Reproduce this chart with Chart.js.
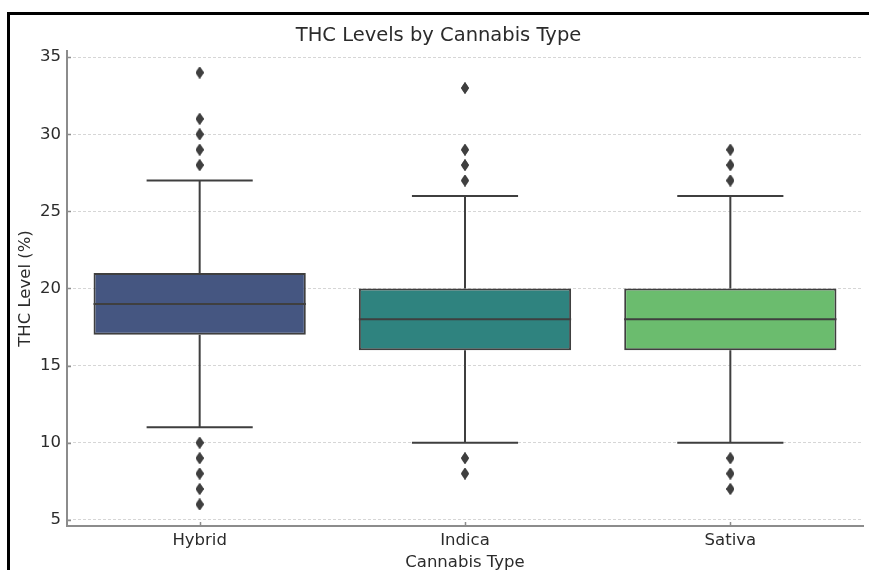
<!DOCTYPE html>
<html>
<head>
<meta charset="utf-8">
<script src="https://cdn.jsdelivr.net/npm/chart.js@4"></script>
<style>
  html, body { margin: 0; padding: 0; background: #fff; }
  #frame {
    position: absolute; left: 7px; top: 12px;
    width: 859px; height: 555px;
    border-left: 3px solid #000; border-top: 3px solid #000;
    background: #fff;
  }
</style>
</head>
<body>
<div id="frame"><canvas id="thc-chart"></canvas></div>
<script>
const categories = ['Hybrid', 'Indica', 'Sativa'];
const q1Values = [17, 16, 16];
const medianValues = [19, 18, 18];
const q3Values = [21, 20, 20];
const whiskerLow = [11, 10, 10];
const whiskerHigh = [27, 26, 26];
const outlierValues = [
    [6, 7, 8, 9, 10, 28, 29, 30, 31, 34],
    [8, 9, 27, 28, 29, 33],
    [7, 8, 9, 27, 28, 29]
];
const yTicks = [5, 10, 15, 20, 25, 30, 35];

const boxColors = ['#455681', '#2f837f', '#6bbc6e'];
const lineColor = '#3f3f3f';
const axisColor = '#8c8c8c';
const textColor = '#2b2b2b';

Chart.defaults.font.family = "'DejaVu Sans', sans-serif";
Chart.defaults.color = textColor;

// thin diamond marker like matplotlib's 'd'
function makeDiamond(w, h, color) {
    const c = document.createElement('canvas');
    c.width = w;
    c.height = h;
    const g = c.getContext('2d');
    g.fillStyle = color;
    g.beginPath();
    g.moveTo(w / 2, 0);
    g.lineTo(w, h / 2);
    g.lineTo(w / 2, h);
    g.lineTo(0, h / 2);
    g.closePath();
    g.fill();
    return c;
}

const outlierPoints = [];
outlierValues.forEach((list, i) => {
    list.forEach(v => outlierPoints.push({ x: categories[i], y: v }));
});

// whiskers, caps, medians, outliers and inward ticks go on top of the grid
const boxLines = {
    id: 'boxLines',
    afterDraw(chart) {
        const ctx = chart.ctx;
        const y = chart.scales.y;
        const x = chart.scales.x;
        const area = chart.chartArea;
        const bars = chart.getDatasetMeta(0).data;

        ctx.save();
        ctx.strokeStyle = lineColor;
        ctx.lineWidth = 2;
        ctx.lineCap = 'butt';
        bars.forEach((bar, i) => {
            const cx = bar.x;
            const half = bar.width / 2;
            const capHalf = half / 2;
            const yLow = y.getPixelForValue(whiskerLow[i]);
            const yHigh = y.getPixelForValue(whiskerHigh[i]);
            const yQ1 = y.getPixelForValue(q1Values[i]);
            const yQ3 = y.getPixelForValue(q3Values[i]);
            const yMed = y.getPixelForValue(medianValues[i]);
            ctx.beginPath();
            ctx.moveTo(cx, yQ3);
            ctx.lineTo(cx, yHigh);
            ctx.moveTo(cx - capHalf, yHigh);
            ctx.lineTo(cx + capHalf, yHigh);
            ctx.moveTo(cx, yQ1);
            ctx.lineTo(cx, yLow);
            ctx.moveTo(cx - capHalf, yLow);
            ctx.lineTo(cx + capHalf, yLow);
            ctx.moveTo(cx - half, yMed);
            ctx.lineTo(cx + half, yMed);
            ctx.stroke();
        });
        ctx.restore();

        chart.getDatasetMeta(1).data.forEach(p => p.draw(ctx, area));

        ctx.save();
        ctx.strokeStyle = axisColor;
        ctx.lineWidth = 1.5;
        ctx.beginPath();
        yTicks.forEach(v => {
            const py = Math.round(y.getPixelForValue(v)) + 0.5;
            ctx.moveTo(area.left, py);
            ctx.lineTo(area.left + 4, py);
        });
        categories.forEach((c, i) => {
            const px = Math.round(x.getPixelForValue(i)) + 0.5;
            ctx.moveTo(px, area.bottom);
            ctx.lineTo(px, area.bottom - 4);
        });
        ctx.stroke();
        ctx.restore();
    }
};

new Chart(document.getElementById('thc-chart'), {
    type: 'bar',
    data: {
        labels: categories,
        datasets: [{
            label: 'IQR',
            data: q1Values.map((v, i) => [v, q3Values[i]]),
            backgroundColor: boxColors,
            borderColor: lineColor,
            borderWidth: 2,
            borderSkipped: false,
            barPercentage: 0.8,
            categoryPercentage: 1.0
        }, {
            type: 'scatter',
            label: 'Outliers',
            data: outlierPoints,
            pointStyle: makeDiamond(8, 12, lineColor),
            pointRadius: 5,
            backgroundColor: lineColor,
            borderColor: lineColor
        }]
    },
    options: {
        responsive: true,
        maintainAspectRatio: false,
        animation: false,
        layout: { padding: { left: 0, right: 2, top: 0, bottom: 0 } },
        plugins: {
            legend: { display: false },
            tooltip: { enabled: false },
            title: {
                display: true,
                text: 'THC Levels by Cannabis Type',
                color: textColor,
                font: { size: 19.5, weight: 'normal' },
                padding: { top: 9, bottom: 3.6 }
            }
        },
        scales: {
            x: {
                offset: true,
                grid: { drawOnChartArea: false, drawTicks: false },
                border: { color: axisColor, width: 2 },
                ticks: { color: textColor, font: { size: 16.5 }, padding: 5 },
                title: {
                    display: true,
                    text: 'Cannabis Type',
                    color: textColor,
                    font: { size: 16.5 },
                    padding: { top: 0, bottom: -3 }
                },
                afterFit(scale) { scale.height = 44; }
            },
            y: {
                min: 4.6,
                max: 35.4,
                z: 1,
                afterBuildTicks(scale) {
                    scale.ticks = yTicks.map(v => ({ value: v }));
                },
                grid: { color: '#d6d6d6', lineWidth: 1, drawTicks: false },
                border: { color: axisColor, width: 2, dash: [3, 2] },
                ticks: { color: textColor, font: { size: 16.5 }, padding: 6 },
                title: {
                    display: true,
                    text: 'THC Level (%)',
                    color: textColor,
                    font: { size: 16.5 },
                    padding: { top: 6, bottom: 0 }
                },
                afterFit(scale) { scale.width = 57; }
            }
        }
    },
    plugins: [boxLines]
});
</script>
</body>
</html>
